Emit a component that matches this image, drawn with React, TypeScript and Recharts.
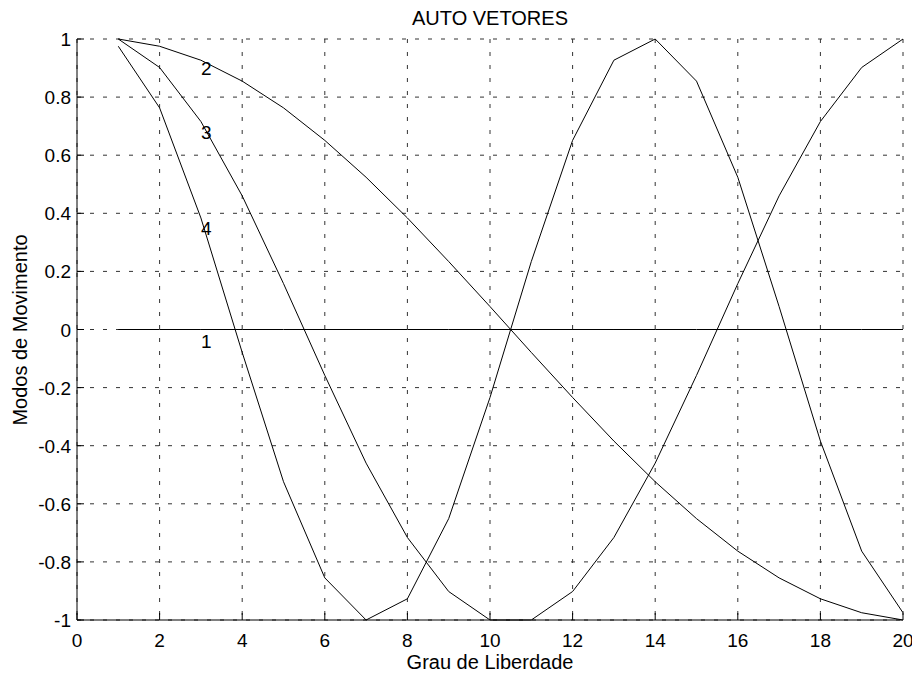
import React from "react";
import {
  LineChart,
  Line,
  XAxis,
  YAxis,
  CartesianGrid,
  ReferenceDot,
} from "recharts";

// grau de liberdade (x) e modos de movimento (y)
const grau = [1, 2, 3, 4, 5, 6, 7, 8, 9, 10, 11, 12, 13, 14, 15, 16, 17, 18, 19, 20];

const modo1 = [0, 0, 0, 0, 0, 0, 0, 0, 0, 0, 0, 0, 0, 0, 0, 0, 0, 0, 0, 0];
const modo2 = [
  1.0, 0.975, 0.927, 0.855, 0.763, 0.651, 0.524, 0.384, 0.234, 0.079,
  -0.079, -0.234, -0.384, -0.524, -0.651, -0.763, -0.855, -0.927, -0.975, -1.0,
];
const modo3 = [
  1.0, 0.902, 0.716, 0.46, 0.158, -0.158, -0.46, -0.716, -0.902, -1.0,
  -1.0, -0.902, -0.716, -0.46, -0.158, 0.158, 0.46, 0.716, 0.902, 1.0,
];
const modo4 = [
  0.975, 0.763, 0.384, -0.079, -0.524, -0.855, -1.0, -0.927, -0.651, -0.234,
  0.234, 0.651, 0.927, 1.0, 0.855, 0.524, 0.079, -0.384, -0.763, -0.975,
];

const xTicks = [0, 2, 4, 6, 8, 10, 12, 14, 16, 18, 20];
const yTicks = [-1, -0.8, -0.6, -0.4, -0.2, 0, 0.2, 0.4, 0.6, 0.8, 1];

// rótulos colocados à mão (texto em x = 3)
const rotulos = ["1", "2", "3", "4"];
const rotuloY = [-0.04, 0.9, 0.68, 0.35];

const data = grau.map((g, i) => ({
  g,
  m1: modo1[i],
  m2: modo2[i],
  m3: modo3[i],
  m4: modo4[i],
}));

const W = 912;
const H = 664;
const FONT = "'Liberation Sans', Arial, sans-serif";
const TICK = 7;

function BottomTick({ x, y, payload }: any) {
  return (
    <g>
      <line x1={x} y1={y} x2={x} y2={y - TICK} stroke="#000" />
      <text x={x} y={y + 27} textAnchor="middle" fontSize={19} fontFamily={FONT} fill="#000">
        {payload.value}
      </text>
    </g>
  );
}

function TopTick({ x, y }: any) {
  return <line x1={x} y1={y} x2={x} y2={y + TICK} stroke="#000" />;
}

function LeftTick({ x, y, payload }: any) {
  return (
    <g>
      <line x1={x} y1={y} x2={x + TICK} y2={y} stroke="#000" />
      <text x={x - 6} y={y + 7} textAnchor="end" fontSize={19} fontFamily={FONT} fill="#000">
        {payload.value}
      </text>
    </g>
  );
}

function RightTick({ x, y }: any) {
  return <line x1={x} y1={y} x2={x - TICK} y2={y} stroke="#000" />;
}

export default function App() {
  return (
    <div style={{ position: "relative", width: W, height: H, fontFamily: FONT }}>
      <LineChart
        width={W}
        height={H}
        data={data}
        margin={{ top: 31, right: 17, bottom: 0, left: 0 }}
      >
        <CartesianGrid stroke="#333" strokeDasharray="4 9" />
        <XAxis
          dataKey="g"
          type="number"
          domain={[0, 20]}
          ticks={xTicks}
          height={52}
          tickSize={0}
          tickMargin={0}
          tick={<BottomTick />}
          axisLine={{ stroke: "#000" }}
          interval={0}
        />
        <XAxis
          xAxisId="top"
          orientation="top"
          dataKey="g"
          type="number"
          domain={[0, 20]}
          ticks={xTicks}
          height={0}
          tickSize={0}
          tickMargin={0}
          tick={<TopTick />}
          axisLine={{ stroke: "#000" }}
          interval={0}
        />
        <YAxis
          type="number"
          domain={[-1, 1]}
          ticks={yTicks}
          width={69}
          tickSize={0}
          tickMargin={0}
          tick={<LeftTick />}
          axisLine={{ stroke: "#000" }}
          interval={0}
        />
        <YAxis
          yAxisId="right"
          orientation="right"
          type="number"
          domain={[-1, 1]}
          ticks={yTicks}
          width={0}
          tickSize={0}
          tickMargin={0}
          tick={<RightTick />}
          axisLine={{ stroke: "#000" }}
          interval={0}
        />
        <Line dataKey="m1" stroke="#000" strokeWidth={1} dot={false} isAnimationActive={false} />
        <Line dataKey="m2" stroke="#000" strokeWidth={1} dot={false} isAnimationActive={false} />
        <Line dataKey="m3" stroke="#000" strokeWidth={1} dot={false} isAnimationActive={false} />
        <Line dataKey="m4" stroke="#000" strokeWidth={1} dot={false} isAnimationActive={false} />
        {rotulos.map((t, i) => (
          <ReferenceDot
            key={t}
            x={3}
            y={rotuloY[i]}
            r={0}
            fill="none"
            stroke="none"
            label={{ value: t, position: "right", offset: 0, fontSize: 19, fill: "#000", fontFamily: FONT }}
          />
        ))}
      </LineChart>
      <svg
        width={W}
        height={H}
        style={{ position: "absolute", left: 0, top: 0, pointerEvents: "none" }}
      >
        <text x={482} y={17} textAnchor="middle" fontSize={20} fontFamily={FONT} fill="#000">
          AUTO VETORES
        </text>
        <text x={482} y={661} textAnchor="middle" fontSize={20} fontFamily={FONT} fill="#000">
          Grau de Liberdade
        </text>
        <text
          x={19}
          y={322}
          transform="rotate(-90 19 322)"
          textAnchor="middle"
          fontSize={20}
          fontFamily={FONT}
          fill="#000"
        >
          Modos de Movimento
        </text>
      </svg>
    </div>
  );
}
